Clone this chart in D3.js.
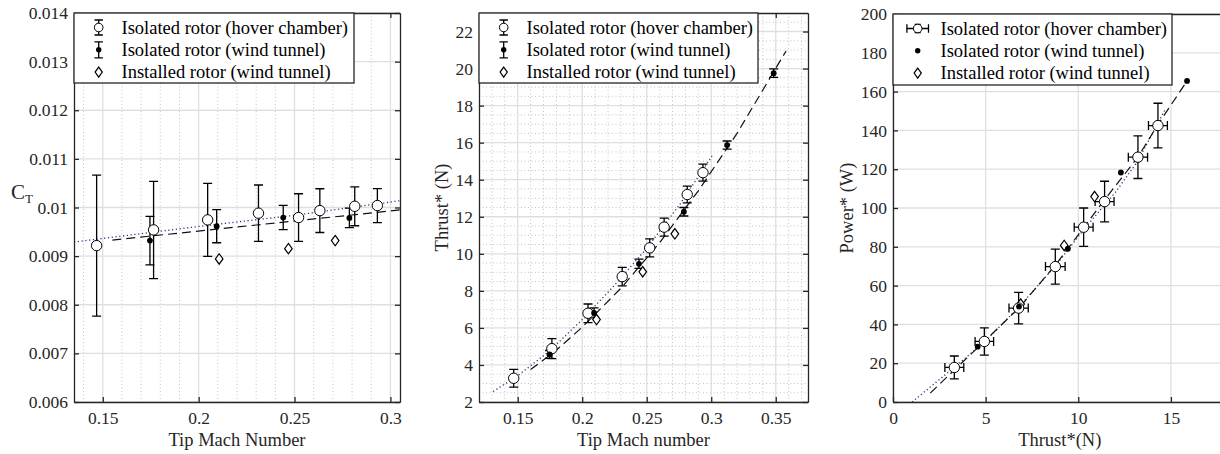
<!DOCTYPE html>
<html>
<head>
<meta charset="utf-8">
<script src="https://cdn.jsdelivr.net/npm/d3@7"></script>
<style>
  html, body { margin: 0; padding: 0; background: #fff; }
  svg { display: block; }
  svg text { font-family: "Liberation Serif", "Times New Roman", serif; }
</style>
</head>
<body>
<svg id="chart" width="1220" height="454"></svg>
<script>
// ---------- Data ----------
// Rotor C_T vs tip Mach number
const hoverMach = [0.1468, 0.1765, 0.2047, 0.2312, 0.2521, 0.2632, 0.2814, 0.2932];
const hoverCT = [0.009216, 0.009539, 0.009745, 0.009883, 0.009793, 0.009936, 0.010025, 0.01004];
const hoverCTErr = [0.00145, 0.001, 0.00075, 0.00058, 0.00049, 0.00045, 0.0004, 0.00035];
const windMachCT = [0.1746, 0.2094, 0.2441, 0.2786];
const windCT = [0.009319, 0.009615, 0.009793, 0.009786];
const windCTErr = [0.0005, 0.00034, 0.00025, 0.0002];
const instMach = [0.2107, 0.2468, 0.2712];
const instCT = [0.008942, 0.009154, 0.009319];
const ctFitHoverMach = [0.135, 0.2, 0.25, 0.305];
const ctFitHover = [0.00929, 0.00961, 0.00984, 0.01014];
const ctFitWindMach = [0.155, 0.23, 0.305];
const ctFitWind = [0.00933, 0.00964, 0.00995];

// Thrust vs tip Mach number
const hoverMachT = [0.1469, 0.1765, 0.2045, 0.231, 0.2523, 0.2635, 0.2814, 0.2936];
const hoverThrust = [3.28, 4.88, 6.79, 8.77, 10.32, 11.44, 13.2, 14.38];
const hoverThrustErr = [0.48, 0.54, 0.5, 0.5, 0.49, 0.49, 0.45, 0.46];
const windMachT = [0.1747, 0.2092, 0.244, 0.2788, 0.3123, 0.3484];
const windThrust = [4.57, 6.81, 9.46, 12.27, 15.87, 19.75];
const windThrustErr = [0.21, 0.27, 0.25, 0.23, 0.22, 0.23];
const instMachT = [0.2111, 0.2469, 0.2718];
const instThrust = [6.45, 9.03, 11.08];
const tFitHoverMach = [0.131, 0.15, 0.175, 0.2, 0.225, 0.25, 0.275, 0.3006];
const tFitHover = [2.57, 3.42, 4.77, 6.45, 8.3, 10.3, 12.6, 15.28];
const tFitWindMach = [0.16, 0.18, 0.2, 0.23, 0.26, 0.29, 0.32, 0.358];
const tFitWind = [3.75, 4.8, 6.04, 8.14, 10.6, 13.4, 16.5, 20.95];

// Power vs thrust
const hoverThrustP = [3.31, 4.93, 6.78, 8.76, 10.29, 11.42, 13.22, 14.3];
const hoverThrustPErr = [0.51, 0.5, 0.52, 0.53, 0.51, 0.51, 0.52, 0.51];
const hoverPower = [17.8, 31.2, 48.4, 69.8, 90.1, 103.3, 126.2, 142.5];
const hoverPowerErr = [5.9, 7.0, 8.1, 9.0, 9.9, 10.5, 11.0, 11.5];
const windThrustP = [4.57, 6.8, 9.44, 12.3, 15.87];
const windPower = [28.5, 49.2, 79, 118.3, 165.5];
const instThrustP = [6.89, 9.24, 10.88];
const instPower = [50.5, 80.7, 105.9];
const pFitHoverThrust = [1.03, 3.3, 5.0, 6.8, 8.8, 10.3, 12.0, 13.2, 14.7];
const pFitHover = [0, 17.8, 31.5, 49, 70.5, 89, 108, 124, 151];
const pFitWindThrust = [2.01, 4.57, 6.8, 8.8, 10.3, 11.4, 13.2, 14.3, 15.87];
const pFitWind = [4.6, 28, 48.5, 71, 90, 104, 126, 143, 165.5];

// Tick labels
const ctXTicks = [0.15, 0.2, 0.25, 0.3];
const ctXLabels = ["0.15", "0.2", "0.25", "0.3"];
const ctYTicks = [0.006, 0.007, 0.008, 0.009, 0.01, 0.011, 0.012, 0.013, 0.014];
const ctYLabels = ["0.006", "0.007", "0.008", "0.009", "0.01", "0.011", "0.012", "0.013", "0.014"];
const tXTicks = [0.15, 0.2, 0.25, 0.3, 0.35];
const tXLabels = ["0.15", "0.2", "0.25", "0.3", "0.35"];
const tYTicks = [2, 4, 6, 8, 10, 12, 14, 16, 18, 20, 22];
const tYLabels = ["2", "4", "6", "8", "10", "12", "14", "16", "18", "20", "22"];
const pXTicks = [0, 5, 10, 15];
const pXLabels = ["0", "5", "10", "15"];
const pYTicks = [0, 20, 40, 60, 80, 100, 120, 140, 160, 180, 200];
const pYLabels = ["0", "20", "40", "60", "80", "100", "120", "140", "160", "180", "200"];

const legendLabels = [
  "Isolated rotor (hover chamber)",
  "Isolated rotor (wind tunnel)",
  "Installed rotor (wind tunnel)"
];

// ---------- Styles ----------
const SERIF = "Liberation Serif";
const AXIS = "#262626";
const GRID = "#dfdfdf";
const MINOR = "#c4c4c4";
const FIT_BLUE = "#2f2f8c";
const TICK_FS = 17.5;
const LABEL_FS = 18.5;
const LEGEND_FS = 18.5;

const svg = d3.select("#chart");
svg.append("rect").attr("width", 1220).attr("height", 454).attr("fill", "#fff");

let clipCount = 0;

function zip(a, b) { return a.map((v, i) => [v, b[i]]); }

function drawPanel(cfg) {
  const x = d3.scaleLinear().domain(cfg.xDomain).range([cfg.left, cfg.right]);
  const y = d3.scaleLinear().domain(cfg.yDomain).range([cfg.bottom, cfg.top]);
  const g = svg.append("g");
  const clipId = "clip" + (clipCount++);
  g.append("clipPath").attr("id", clipId).append("rect")
    .attr("x", cfg.left).attr("y", cfg.top)
    .attr("width", cfg.right - cfg.left).attr("height", cfg.bottom - cfg.top);

  // minor grid
  const mg = g.append("g").attr("stroke", MINOR).attr("stroke-width", 1)
    .attr("stroke-dasharray", "1,2.5").attr("fill", "none");
  (cfg.xMinor || []).forEach(v => {
    mg.append("line").attr("x1", x(v)).attr("x2", x(v))
      .attr("y1", cfg.top).attr("y2", cfg.bottom);
  });
  (cfg.yMinor || []).forEach(v => {
    mg.append("line").attr("y1", y(v)).attr("y2", y(v))
      .attr("x1", cfg.left).attr("x2", cfg.right);
  });
  // major grid
  const gg = g.append("g").attr("stroke", GRID).attr("stroke-width", 1.3).attr("fill", "none");
  cfg.xTicks.forEach(v => {
    gg.append("line").attr("x1", x(v)).attr("x2", x(v))
      .attr("y1", cfg.top).attr("y2", cfg.bottom);
  });
  cfg.yTicks.forEach(v => {
    gg.append("line").attr("y1", y(v)).attr("y2", y(v))
      .attr("x1", cfg.left).attr("x2", cfg.right);
  });

  const plot = g.append("g").attr("clip-path", `url(#${clipId})`);
  const line = d3.line().x(d => x(d[0])).y(d => y(d[1]));

  // fitted curves
  plot.append("path").datum(cfg.fitHover).attr("d", line)
    .attr("fill", "none").attr("stroke", FIT_BLUE).attr("stroke-width", 1.3)
    .attr("stroke-dasharray", "1.2,2.6");
  plot.append("path").datum(cfg.fitWind).attr("d", line)
    .attr("fill", "none").attr("stroke", "#111").attr("stroke-width", 1.2)
    .attr("stroke-dasharray", "9,5");

  const cap = 4.5;
  function vErr(sel, xv, yv, e) {
    const px = x(xv), t = y(yv + e), b = y(yv - e);
    sel.append("path")
      .attr("d", `M${px},${t}V${b}M${px - cap},${t}H${px + cap}M${px - cap},${b}H${px + cap}`)
      .attr("stroke", "#000").attr("stroke-width", 1.3).attr("fill", "none");
  }
  function hErr(sel, xv, yv, e) {
    const py = y(yv), l = x(xv - e), r = x(xv + e);
    sel.append("path")
      .attr("d", `M${l},${py}H${r}M${l},${py - cap}V${py + cap}M${r},${py - cap}V${py + cap}`)
      .attr("stroke", "#000").attr("stroke-width", 1.3).attr("fill", "none");
  }

  // error bars
  cfg.hover.forEach(d => {
    vErr(plot, d.x, d.y, d.ey);
    if (d.ex) hErr(plot, d.x, d.y, d.ex);
  });
  cfg.wind.forEach(d => { if (d.ey) vErr(plot, d.x, d.y, d.ey); });

  // markers
  plot.selectAll(null).data(cfg.inst).join("path")
    .attr("d", d => { const px = x(d.x), py = y(d.y);
      return `M${px},${py - 5.2}L${px + 3.8},${py}L${px},${py + 5.2}L${px - 3.8},${py}Z`; })
    .attr("fill", "#fff").attr("stroke", "#000").attr("stroke-width", 1.2);
  plot.selectAll(null).data(cfg.hover).join("circle")
    .attr("cx", d => x(d.x)).attr("cy", d => y(d.y)).attr("r", 5.2)
    .attr("fill", "#fff").attr("stroke", "#000").attr("stroke-width", 1);
  plot.selectAll(null).data(cfg.wind).join("circle")
    .attr("cx", d => x(d.x)).attr("cy", d => y(d.y)).attr("r", 2.9)
    .attr("fill", "#000");

  // axes (ticks point inward, box on)
  const fmtX = (d, i) => cfg.xLabels[i];
  const fmtY = (d, i) => cfg.yLabels[i];
  const ax = [
    g.append("g").attr("transform", `translate(0,${cfg.bottom})`)
      .call(d3.axisBottom(x).tickValues(cfg.xTicks).tickFormat(fmtX)
        .tickSizeInner(-5).tickSizeOuter(0).tickPadding(10)),
    g.append("g").attr("transform", `translate(${cfg.left},0)`)
      .call(d3.axisLeft(y).tickValues(cfg.yTicks).tickFormat(fmtY)
        .tickSizeInner(-5).tickSizeOuter(0).tickPadding(6)),
    g.append("g").attr("transform", `translate(0,${cfg.top})`)
      .call(d3.axisTop(x).tickValues(cfg.xTicks).tickFormat("")
        .tickSizeInner(-5).tickSizeOuter(0)),
    g.append("g").attr("transform", `translate(${cfg.right},0)`)
      .call(d3.axisRight(y).tickValues(cfg.yTicks).tickFormat("")
        .tickSizeInner(-5).tickSizeOuter(0))
  ];
  ax.forEach(a => {
    a.attr("font-family", SERIF).attr("font-size", TICK_FS);
    a.select(".domain").attr("stroke", AXIS).attr("stroke-width", 1.3);
    a.selectAll(".tick line").attr("stroke", AXIS).attr("stroke-width", 1.3);
    a.selectAll(".tick text").attr("fill", AXIS).attr("font-family", SERIF);
  });

  // axis labels
  const cx = (cfg.left + cfg.right) / 2;
  g.append("text").attr("x", cx).attr("y", cfg.bottom + 44)
    .attr("text-anchor", "middle").attr("font-family", SERIF)
    .attr("font-size", LABEL_FS).attr("fill", AXIS)
    .text(cfg.xTitle);
  if (cfg.yTitle) {
    const cy = (cfg.top + cfg.bottom) / 2;
    g.append("text").attr("transform", `translate(${cfg.yTitleX},${cy}) rotate(-90)`)
      .attr("text-anchor", "middle").attr("font-family", SERIF)
      .attr("font-size", LABEL_FS).attr("fill", AXIS)
      .text(cfg.yTitle);
  }

  // legend
  const L = cfg.legend;
  const lg = g.append("g");
  lg.append("rect").attr("x", L.x).attr("y", L.y).attr("width", L.w).attr("height", L.h)
    .attr("fill", "#fff").attr("stroke", AXIS).attr("stroke-width", 1.3);
  const mx = L.x + 24.7;
  legendLabels.forEach((txt, i) => {
    const ry = L.y + 14.5 + i * 22.3;
    lg.append("text").attr("x", L.x + 47.5).attr("y", ry + 6.2)
      .attr("font-family", SERIF)
      .attr("font-size", LEGEND_FS).attr("fill", "#000").text(txt);
    const c = 4.2;
    if (i === 0) {
      const e = 7.5;
      let d = `M${mx},${ry - e}V${ry + e}M${mx - c},${ry - e}H${mx + c}M${mx - c},${ry + e}H${mx + c}`;
      if (L.xyErr) {
        const ex = 10.8;
        d = `M${mx},${ry - 4}V${ry + 4}M${mx - 3},${ry - 4}H${mx + 3}M${mx - 3},${ry + 4}H${mx + 3}` +
            `M${mx - ex},${ry}H${mx + ex}M${mx - ex},${ry - c}V${ry + c}M${mx + ex},${ry - c}V${ry + c}`;
      }
      lg.append("path").attr("d", d).attr("stroke", "#000").attr("stroke-width", 1.3).attr("fill", "none");
      lg.append("circle").attr("cx", mx).attr("cy", ry).attr("r", 4.3)
        .attr("fill", "#fff").attr("stroke", "#000").attr("stroke-width", 1);
    } else if (i === 1) {
      if (!L.xyErr) {
        const e = 8;
        lg.append("path")
          .attr("d", `M${mx},${ry - e}V${ry + e}M${mx - c},${ry - e}H${mx + c}M${mx - c},${ry + e}H${mx + c}`)
          .attr("stroke", "#000").attr("stroke-width", 1.3).attr("fill", "none");
      }
      lg.append("circle").attr("cx", mx).attr("cy", ry).attr("r", 2.7).attr("fill", "#000");
    } else {
      lg.append("path")
        .attr("d", `M${mx},${ry - 5}L${mx + 3.6},${ry}L${mx},${ry + 5}L${mx - 3.6},${ry}Z`)
        .attr("fill", "#fff").attr("stroke", "#000").attr("stroke-width", 1.2);
    }
  });
  return g;
}

function minorSteps(lo, hi, step, majorStep) {
  return d3.range(Math.round(lo / step), Math.round(hi / step) + 1)
    .map(k => +(k * step).toFixed(6))
    .filter(v => Math.abs(v / majorStep - Math.round(v / majorStep)) > 1e-6 && v > lo && v < hi);
}

// ---------- Panel 1: C_T ----------
const p1 = drawPanel({
  left: 74, right: 400, top: 13, bottom: 402,
  xDomain: [0.135, 0.305], yDomain: [0.006, 0.014],
  xTicks: ctXTicks, xLabels: ctXLabels, yTicks: ctYTicks, yLabels: ctYLabels,
  xMinor: minorSteps(0.135, 0.305, 0.01, 0.05), yMinor: [],
  hover: hoverMach.map((m, i) => ({ x: m, y: hoverCT[i], ey: hoverCTErr[i] })),
  wind: windMachCT.map((m, i) => ({ x: m, y: windCT[i], ey: windCTErr[i] })),
  inst: instMach.map((m, i) => ({ x: m, y: instCT[i] })),
  fitHover: zip(ctFitHoverMach, ctFitHover),
  fitWind: zip(ctFitWindMach, ctFitWind),
  xTitle: "Tip Mach Number", yTitle: null,
  legend: { x: 74, y: 13, w: 280, h: 70, xyErr: false }
});
// C_T label
const ctLabel = p1.append("text").attr("x", 11).attr("y", 199)
  .attr("font-family", SERIF).attr("fill", AXIS);
ctLabel.append("tspan").attr("font-size", 21).text("C");
ctLabel.append("tspan").attr("font-size", 13).attr("dy", 4).text("T");

// ---------- Panel 2: Thrust ----------
drawPanel({
  left: 479, right: 808, top: 13, bottom: 402,
  xDomain: [0.12, 0.375], yDomain: [2, 23],
  xTicks: tXTicks, xLabels: tXLabels, yTicks: tYTicks, yLabels: tYLabels,
  xMinor: minorSteps(0.12, 0.375, 0.01, 0.05), yMinor: minorSteps(2, 23, 0.5, 2),
  hover: hoverMachT.map((m, i) => ({ x: m, y: hoverThrust[i], ey: hoverThrustErr[i] })),
  wind: windMachT.map((m, i) => ({ x: m, y: windThrust[i], ey: windThrustErr[i] })),
  inst: instMachT.map((m, i) => ({ x: m, y: instThrust[i] })),
  fitHover: zip(tFitHoverMach, tFitHover),
  fitWind: zip(tFitWindMach, tFitWind),
  xTitle: "Tip Mach number", yTitle: "Thrust* (N)", yTitleX: 448,
  legend: { x: 479, y: 13, w: 279, h: 70, xyErr: false }
});

// ---------- Panel 3: Power ----------
drawPanel({
  left: 893, right: 1226.5, top: 14, bottom: 402,
  xDomain: [0, 18], yDomain: [0, 200],
  xTicks: pXTicks, xLabels: pXLabels, yTicks: pYTicks, yLabels: pYLabels,
  xMinor: [], yMinor: [],
  hover: hoverThrustP.map((t, i) => ({ x: t, y: hoverPower[i], ey: hoverPowerErr[i], ex: hoverThrustPErr[i] })),
  wind: windThrustP.map((t, i) => ({ x: t, y: windPower[i] })),
  inst: instThrustP.map((t, i) => ({ x: t, y: instPower[i] })),
  fitHover: zip(pFitHoverThrust, pFitHover),
  fitWind: zip(pFitWindThrust, pFitWind),
  xTitle: "Thrust*(N)", yTitle: "Power* (W)", yTitleX: 853,
  legend: { x: 893, y: 14, w: 279, h: 71, xyErr: true }
});
</script>
</body>
</html>
